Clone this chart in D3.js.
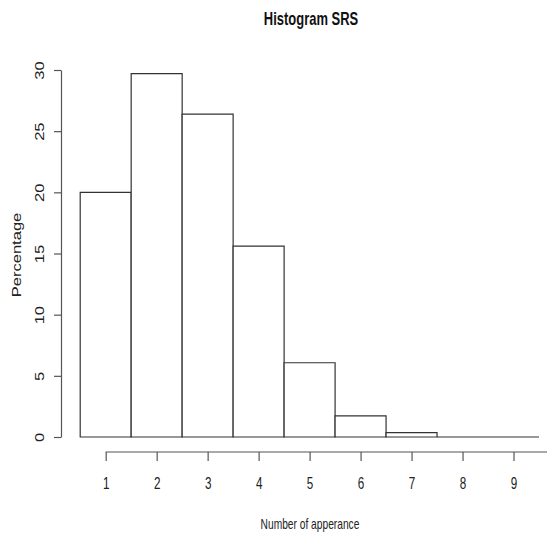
<!DOCTYPE html>
<html>
<head>
<meta charset="utf-8">
<script src="https://cdn.jsdelivr.net/npm/d3@7"></script>
<style>
html,body{margin:0;padding:0;background:#fff;}
svg{display:block;}
</style>
</head>
<body>
<svg id="chart" width="547" height="533"></svg>
<script>
const binCenters = [1, 2, 3, 4, 5, 6, 7, 8, 9];
const percentages = [20.0, 29.7, 26.4, 15.6, 6.07, 1.72, 0.35, 0, 0];
const xTicks = [1, 2, 3, 4, 5, 6, 7, 8, 9];
const yTicks = [0, 5, 10, 15, 20, 25, 30];

const svg = d3.select("#chart");
const x = d3.scaleLinear().domain([0.5, 9.5]).range([80.2, 539]);
const y = d3.scaleLinear().domain([0, 30]).range([437, 70]);
const font = "'Liberation Sans',Arial,sans-serif";
const SQ = 0.73;   // horizontal squeeze of horizontal text
const ST = 1.38;   // stretch of rotated text along its length

// bars (paths so zero-height bins still show a line)
svg.append("g").selectAll("path").data(binCenters).join("path")
  .attr("d", (d, i) => {
    const x0 = x(d - 0.5), x1 = x(d + 0.5), y0 = y(0), yt = y(percentages[i]);
    return `M${x0},${y0}V${yt}H${x1}V${y0}Z`;
  })
  .attr("fill", "#fff")
  .attr("stroke", "#333")
  .attr("stroke-width", 1.2);

// y axis
const yAxis = svg.append("g").attr("transform", "translate(61,0)")
  .call(d3.axisLeft(y).tickValues(yTicks).tickSize(7).tickSizeOuter(0).tickFormat(d3.format("d")));
yAxis.select(".domain").attr("stroke", "#555").attr("stroke-width", 1.2);
yAxis.selectAll(".tick line").attr("stroke", "#555").attr("stroke-width", 1.2);
yAxis.selectAll(".tick text")
  .attr("transform", `rotate(-90) scale(${ST},1)`)
  .attr("x", 0).attr("y", -17.5)
  .attr("dy", 0)
  .attr("text-anchor", "middle")
  .style("font-family", font).style("font-size", "12px").attr("fill", "#222");

// x axis
const xAxis = svg.append("g").attr("transform", "translate(0,452)")
  .call(d3.axisBottom(x).tickValues(xTicks).tickSize(9).tickSizeOuter(0).tickFormat(d3.format("d")));
xAxis.select(".domain").attr("d", `M${x(1)},0H547`).attr("stroke", "#555").attr("stroke-width", 1.2);
xAxis.selectAll(".tick line").attr("stroke", "#555").attr("stroke-width", 1.2);
xAxis.selectAll(".tick text")
  .attr("y", 0).attr("dy", 0)
  .attr("transform", `translate(0,36.5) scale(${SQ},1)`)
  .style("font-family", font).style("font-size", "16px").attr("fill", "#222");

// title
svg.append("text").attr("transform", `translate(311,25) scale(0.72,1)`).attr("text-anchor", "middle")
  .style("font-family", font).style("font-size", "18px").style("font-weight", "bold")
  .attr("fill", "#111").text("Histogram SRS");

// x label
svg.append("text").attr("transform", `translate(310,529) scale(${SQ},1)`).attr("text-anchor", "middle")
  .style("font-family", font).style("font-size", "14px")
  .attr("fill", "#222").text("Number of apperance");

// y label
svg.append("text").attr("transform", `translate(21,255) rotate(-90) scale(${ST},1)`).attr("text-anchor", "middle")
  .style("font-family", font).style("font-size", "12px")
  .attr("fill", "#222").text("Percentage");
</script>
</body>
</html>
